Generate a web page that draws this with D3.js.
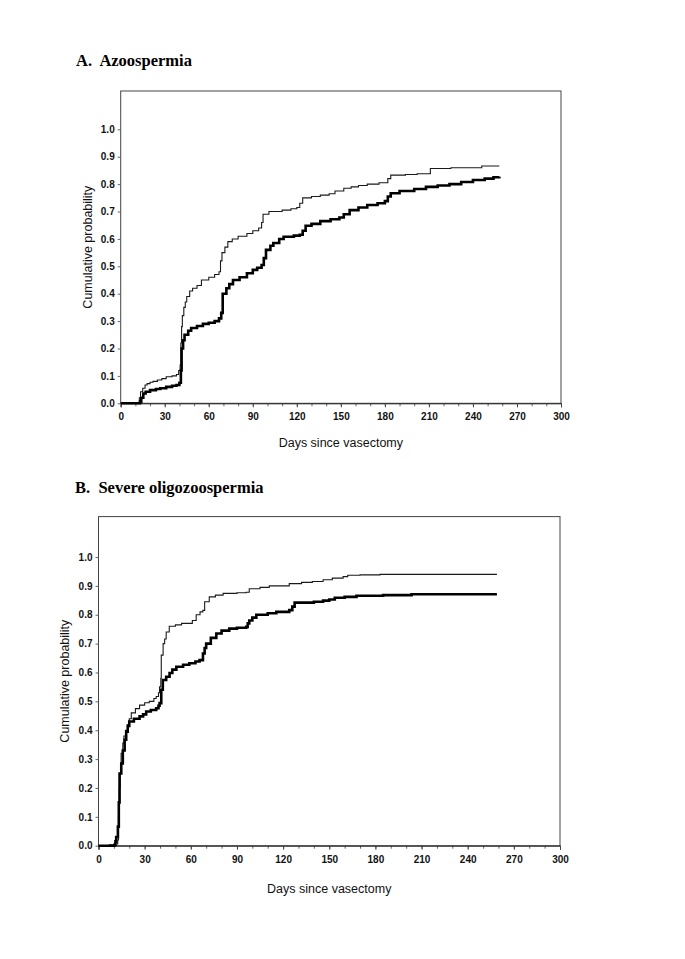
<!DOCTYPE html>
<html>
<head>
<meta charset="utf-8">
<script src="https://cdn.jsdelivr.net/npm/d3@7"></script>
<style>
  body { margin: 0; background: #fff; }
  svg { display: block; }
</style>
</head>
<body>
<svg id="chart" width="685" height="959"></svg>
<script>
// ---------- DATA ----------
const xTicks = [0, 30, 60, 90, 120, 150, 180, 210, 240, 270, 300];
const yTicks = [0.0, 0.1, 0.2, 0.3, 0.4, 0.5, 0.6, 0.7, 0.8, 0.9, 1.0];

// Panel A: Azoospermia — thin curve
const azoThinDays = [0, 12.7, 13.5, 15, 16.6, 18, 20, 22, 25, 28, 31, 35, 38, 39.5, 40.5, 41, 41.5, 42, 43, 44, 45, 47, 49, 52, 55, 60, 64, 67, 68, 69, 71, 73, 76, 80, 86, 90, 94, 96, 97, 101, 110, 116, 120, 122, 124, 130, 136, 142, 146, 152, 157, 162, 168, 176, 182, 184, 194, 202, 211, 225, 246, 258];
const azoThinProb = [0, 0.02, 0.042, 0.055, 0.067, 0.072, 0.077, 0.08, 0.085, 0.09, 0.097, 0.1, 0.105, 0.12, 0.14, 0.22, 0.28, 0.32, 0.35, 0.37, 0.39, 0.41, 0.42, 0.43, 0.45, 0.46, 0.47, 0.48, 0.52, 0.55, 0.57, 0.59, 0.6, 0.61, 0.62, 0.63, 0.64, 0.66, 0.69, 0.70, 0.705, 0.71, 0.715, 0.73, 0.75, 0.755, 0.76, 0.765, 0.775, 0.785, 0.79, 0.795, 0.8, 0.805, 0.82, 0.833, 0.835, 0.838, 0.857, 0.86, 0.866, 0.866];

// Panel A: Azoospermia — thick curve
const azoThickDays = [0, 13.2, 14, 15.4, 17, 20, 24, 27, 31, 35, 38, 40, 41, 41.5, 42.5, 43.5, 46, 48, 52, 56, 60, 64, 67, 68.5, 69.5, 72, 74, 76.5, 81, 86, 90, 93, 96, 97.5, 99, 102, 104, 108, 111, 118, 122, 124, 126, 130, 136, 143, 149, 152, 156, 162, 168, 175, 180, 182, 184, 190, 200, 208, 216, 224, 232, 240, 248, 254, 258];
const azoThickProb = [0, 0.006, 0.02, 0.036, 0.042, 0.048, 0.052, 0.055, 0.06, 0.064, 0.067, 0.075, 0.12, 0.2, 0.23, 0.25, 0.265, 0.275, 0.282, 0.29, 0.294, 0.3, 0.31, 0.33, 0.4, 0.42, 0.435, 0.45, 0.46, 0.475, 0.487, 0.495, 0.505, 0.53, 0.56, 0.575, 0.585, 0.6, 0.608, 0.612, 0.615, 0.63, 0.648, 0.655, 0.665, 0.672, 0.678, 0.69, 0.705, 0.715, 0.724, 0.73, 0.738, 0.755, 0.767, 0.775, 0.782, 0.79, 0.795, 0.8, 0.808, 0.815, 0.82, 0.825, 0.827];

// Panel B: Severe oligozoospermia — thin curve
const oligoThinDays = [0, 7, 10.4, 12.5, 13, 13.5, 14, 14.7, 15.8, 16.5, 17.6, 19, 20, 21.3, 24, 26.7, 30, 33, 36, 37.5, 39, 39.7, 40.5, 40.8, 42, 43, 44, 46, 50, 54, 61, 63.5, 66, 67.8, 69, 72, 76, 81, 90, 96, 98, 105, 111, 124, 132, 139, 146, 152, 159, 162, 170, 183, 259];
const oligoThinProb = [0, 0.003, 0.006, 0.02, 0.1, 0.2, 0.25, 0.32, 0.356, 0.38, 0.40, 0.42, 0.44, 0.46, 0.475, 0.487, 0.495, 0.50, 0.51, 0.517, 0.53, 0.55, 0.58, 0.66, 0.70, 0.716, 0.74, 0.76, 0.765, 0.77, 0.78, 0.80, 0.81, 0.815, 0.845, 0.862, 0.868, 0.874, 0.876, 0.878, 0.89, 0.895, 0.90, 0.908, 0.912, 0.915, 0.921, 0.927, 0.932, 0.937, 0.938, 0.94, 0.94];

// Panel B: Severe oligozoospermia — thick curve
const oligoThickDays = [0, 10.4, 11, 11.5, 12.6, 13.2, 13.7, 14.8, 15.8, 17, 18, 19, 20, 23, 26.7, 29, 31, 34, 37.5, 39, 39.7, 40.8, 41.8, 44, 46.2, 48, 50.6, 55, 59, 63, 65.7, 67.9, 69, 70, 73, 76.6, 80, 85, 90, 96, 97, 98, 100, 102.6, 110, 115.6, 124, 126, 127.5, 140, 146, 150, 153.6, 160, 167.7, 185, 203.5, 259];
const oligoThickProb = [0, 0.003, 0.015, 0.03, 0.066, 0.15, 0.25, 0.285, 0.33, 0.367, 0.395, 0.415, 0.43, 0.44, 0.448, 0.455, 0.465, 0.47, 0.476, 0.485, 0.494, 0.54, 0.574, 0.585, 0.598, 0.61, 0.62, 0.627, 0.632, 0.638, 0.643, 0.666, 0.685, 0.70, 0.72, 0.735, 0.745, 0.752, 0.755, 0.758, 0.77, 0.78, 0.79, 0.80, 0.805, 0.81, 0.816, 0.828, 0.842, 0.845, 0.849, 0.853, 0.859, 0.862, 0.866, 0.868, 0.871, 0.871];

// ---------- DRAW ----------
const svg = d3.select("#chart");
const tickFont = "'Liberation Sans', Arial, sans-serif";

function panel(cfg) {
  const g = svg.append("g");
  const x = d3.scaleLinear().domain([0, 300]).range([cfg.left, cfg.right]);
  const y = d3.scaleLinear().domain([0, 1.14]).range([cfg.bottom, cfg.top]);

  // Title
  svg.append("text")
    .attr("x", cfg.titleX).attr("y", cfg.titleY)
    .attr("font-family", "'Liberation Serif', 'Times New Roman', serif")
    .attr("font-weight", "bold").attr("font-size", 16.5)
    .attr("fill", "#000")
    .style("white-space", "pre")
    .text(cfg.title);

  // Plot box
  g.append("rect")
    .attr("x", x(0)).attr("y", y(1.14))
    .attr("width", x(300) - x(0)).attr("height", y(0) - y(1.14))
    .attr("fill", "none").attr("stroke", "#444").attr("stroke-width", 1);

  // X axis (major + minor ticks)
  const xMinor = d3.range(0, 301, 10);
  g.append("g")
    .attr("transform", `translate(0,${y(0)})`)
    .call(d3.axisBottom(x).tickValues(xMinor).tickSize(3).tickFormat(""))
    .call(s => s.select(".domain").remove())
    .call(s => s.selectAll("line").attr("stroke", "#666"));
  const xa = g.append("g")
    .attr("transform", `translate(0,${y(0)})`)
    .call(d3.axisBottom(x).tickValues(xTicks).tickSize(4).tickPadding(6).tickFormat(d3.format("d")));
  xa.select(".domain").attr("stroke", "#222");
  xa.selectAll("line").attr("stroke", "#444");
  xa.selectAll("text").attr("font-family", tickFont).attr("font-size", 10)
    .attr("font-weight", "bold").attr("fill", "#111");

  // Y axis
  const ya = g.append("g")
    .attr("transform", `translate(${x(0)},0)`)
    .call(d3.axisLeft(y).tickValues(yTicks).tickSize(3).tickPadding(3).tickFormat(d3.format(".1f")));
  ya.select(".domain").remove();
  ya.selectAll("line").attr("stroke", "#666");
  ya.selectAll("text").attr("font-family", tickFont).attr("font-size", 10)
    .attr("font-weight", "bold").attr("fill", "#111");

  // Axis titles
  g.append("text")
    .attr("x", (x(0) + x(300)) / 2).attr("y", cfg.xTitleY)
    .attr("text-anchor", "middle")
    .attr("font-family", tickFont).attr("font-size", 12.5).attr("fill", "#111")
    .text("Days since vasectomy");
  g.append("text")
    .attr("transform", `translate(${cfg.yTitleX},${(y(0) + y(1.14)) / 2}) rotate(-90)`)
    .attr("text-anchor", "middle")
    .attr("font-family", tickFont).attr("font-size", 12.5).attr("fill", "#111")
    .text("Cumulative probability");

  // Curves
  const line = d3.line().x(d => x(d[0])).y(d => y(d[1])).curve(d3.curveStepAfter);
  g.append("path")
    .datum(d3.zip(cfg.thinDays, cfg.thinProb))
    .attr("d", line).attr("fill", "none")
    .attr("stroke", "#1a1a1a").attr("stroke-width", 1.1);
  g.append("path")
    .datum(d3.zip(cfg.thickDays, cfg.thickProb))
    .attr("d", line).attr("fill", "none")
    .attr("stroke", "#000").attr("stroke-width", 2.6);
}

panel({
  title: "A.  Azoospermia", titleX: 76, titleY: 66,
  left: 120.7, right: 561, top: 91, bottom: 403.3,
  xTitleY: 447, yTitleX: 92,
  thinDays: azoThinDays, thinProb: azoThinProb,
  thickDays: azoThickDays, thickProb: azoThickProb
});

panel({
  title: "B.  Severe oligozoospermia", titleX: 75, titleY: 493,
  left: 98.5, right: 560, top: 516.6, bottom: 845.7,
  xTitleY: 893, yTitleX: 69,
  thinDays: oligoThinDays, thinProb: oligoThinProb,
  thickDays: oligoThickDays, thickProb: oligoThickProb
});
</script>
</body>
</html>
